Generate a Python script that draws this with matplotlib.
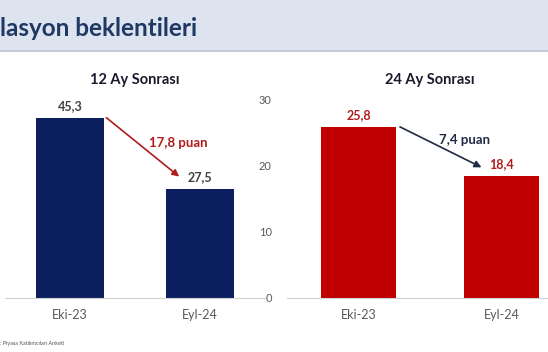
import matplotlib.pyplot as plt
from matplotlib.patches import Rectangle

plt.rcParams["font.family"] = ["Lato", "DejaVu Sans"]

# data
categories = ["Eki-23", "Eyl-24"]
values_12m = [45.3, 27.5]
values_24m = [25.8, 18.4]
labels_12m = ["45,3", "27,5"]
labels_24m = ["25,8", "18,4"]
diff_12m = "17,8 puan"
diff_24m = "7,4 puan"
yticks_24m = [0, 10, 20, 30]

navy = "#0b1f5e"
red = "#c00000"
dark_red = "#b01c1c"
text_gray = "#404040"
label_gray = "#595959"

W, H = 548, 352
fig = plt.figure(figsize=(W / 100, H / 100), dpi=100)
fig.patch.set_facecolor("white")

# title banner
fig.patches.append(Rectangle((0, 1 - 50 / H), 1, 50 / H, transform=fig.transFigure,
                             facecolor="#dde4ef", edgecolor="none", zorder=0))
fig.patches.append(Rectangle((0, 1 - 52 / H), 1, 2 / H, transform=fig.transFigure,
                             facecolor="#c3cbd9", edgecolor="none", zorder=0))
fig.text(0 / W, 1 - 29 / H, "lasyon beklentileri", fontsize=17.5, fontweight="bold",
         color="#1f3864", ha="left", va="center")

bottom = (H - 298) / H
top = (H - 99) / H

ax1 = fig.add_axes([5 / W, bottom, 260 / W, top - bottom])
ax2 = fig.add_axes([287 / W, bottom, 286 / W, top - bottom])

x = list(range(len(categories)))

# left panel
ax1.bar(x, values_12m, width=0.52, color=navy)
ax1.set_xlim(-0.5, 1.5)
ax1.set_ylim(0, 50)
ax1.set_yticks([])
for i, (v, lab) in enumerate(zip(values_12m, labels_12m)):
    ax1.text(i, v + 1.5, lab, ha="center", va="bottom", fontsize=9,
             fontweight="bold", color=text_gray)
ax1.annotate("", xy=(0.84, values_12m[1] + 3), xytext=(0.28, values_12m[0]),
             arrowprops=dict(arrowstyle="-|>", color=dark_red, lw=1.2,
                             mutation_scale=10, shrinkA=0, shrinkB=0))
ax1.text(0.83, 39, diff_12m, ha="center", va="center", fontsize=9.5,
         fontweight="bold", color=dark_red)
ax1.set_title("12 Ay Sonrası", fontsize=10.5, fontweight="bold",
              color="#1a1a2e", pad=11)

# right panel
ax2.bar(x, values_24m, width=0.52, color=red)
ax2.set_xlim(-0.5, 1.5)
ax2.set_ylim(0, 30)
ax2.set_yticks(yticks_24m)
ax2.tick_params(axis="y", length=0, pad=11, labelsize=8, labelcolor=label_gray)
for i, (v, lab) in enumerate(zip(values_24m, labels_24m)):
    ax2.text(i, v + 0.9, lab, ha="center", va="bottom", fontsize=9,
             fontweight="bold", color=dark_red)
ax2.annotate("", xy=(0.86, values_24m[1] + 1.3), xytext=(0.29, values_24m[0]),
             arrowprops=dict(arrowstyle="-|>", color="#1f2a44", lw=1.2,
                             mutation_scale=10, shrinkA=0, shrinkB=0))
ax2.text(0.74, 23.8, diff_24m, ha="center", va="center", fontsize=9.5,
         fontweight="bold", color="#1f2a44")
ax2.set_title("24 Ay Sonrası", fontsize=10.5, fontweight="bold",
              color="#1a1a2e", pad=11)

for ax in (ax1, ax2):
    ax.set_xticks(x)
    ax.set_xticklabels(categories)
    ax.tick_params(axis="x", length=0, pad=8, labelsize=9, labelcolor=label_gray)
    for s in ("top", "right", "left"):
        ax.spines[s].set_visible(False)
    ax.spines["bottom"].set_color("#d0d0d0")
    ax.spines["bottom"].set_linewidth(0.8)
    ax.set_facecolor("none")

fig.text(0 / W, 1 - 344 / H, ": Piyasa Katılımcıları Anketi", fontsize=4,
         color="#555555", ha="left", va="center")

fig.savefig("out.png", dpi=100)
